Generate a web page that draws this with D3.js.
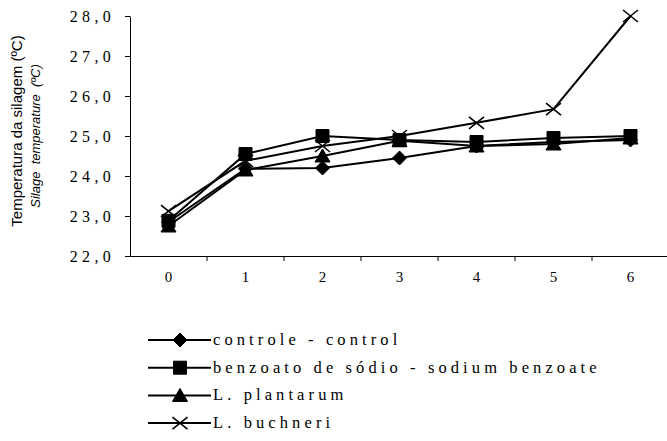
<!DOCTYPE html>
<html lang="en">
<head>
<meta charset="utf-8">
<title>Temperatura da silagem</title>
<script src="https://d3js.org/d3.v7.min.js"></script>
<style>
  body { margin: 0; background: #fff; }
</style>
</head>
<body>
<script>
// dias de exposição ao ar
var days = ["0", "1", "2", "3", "4", "5", "6"];
var controle  = [22.85, 24.18, 24.2, 24.45, 24.75, 24.85, 24.9];
var benzoato  = [22.88, 24.55, 25.0, 24.9, 24.85, 24.95, 25.0];
var plantarum = [22.75, 24.15, 24.5, 24.88, 24.75, 24.8, 24.95];
var buchneri  = [23.12, 24.38, 24.75, 25.0, 25.33, 25.67, 28.0];
var yTicks = [22, 23, 24, 25, 26, 27, 28];

var series = [
  {name: "controle - control", values: controle, symbol: "diamond"},
  {name: "benzoato de sódio - sodium benzoate", values: benzoato, symbol: "square"},
  {name: "L. plantarum", values: plantarum, symbol: "triangle"},
  {name: "L. buchneri", values: buchneri, symbol: "cross"}
];

var width = 667, height = 441;
var serif = "'Liberation Serif', 'Times New Roman', serif";
var sans = "'Liberation Sans', Arial, sans-serif";
var svg = d3.select("body").append("svg")
    .attr("width", width)
    .attr("height", height);

var x = d3.scaleBand().domain(days).range([130, 669]);
var y = d3.scaleLinear().domain([22, 28]).range([256, 16]);

// eixo y
var yAxis = svg.append("g")
    .attr("transform", "translate(130,0)")
    .call(d3.axisLeft(y).tickValues(yTicks).tickSize(5).tickSizeOuter(0)
      .tickFormat(function(d) { return d3.format(".1f")(d).replace(".", ","); }));
yAxis.selectAll("text")
    .attr("x", -15)
    .attr("dy", "0.34em")
    .attr("font-family", serif)
    .style("font-size", "16px")
    .style("letter-spacing", "4.3px");

// eixo x (marcas entre categorias)
var xAxis = svg.append("g")
    .attr("transform", "translate(0,256)")
    .call(d3.axisBottom(x).tickSize(0).tickSizeOuter(0));
xAxis.selectAll("text")
    .attr("y", 26)
    .attr("dy", 0)
    .attr("font-family", serif)
    .style("font-size", "15px");
xAxis.selectAll(".between")
    .data(days.slice(1))
    .enter().append("line")
    .attr("x1", function(d) { return x(d); })
    .attr("x2", function(d) { return x(d); })
    .attr("y1", 0).attr("y2", 5)
    .attr("stroke", "#000");

svg.selectAll(".domain").attr("stroke", "#000");

var line = d3.line()
    .x(function(d, i) { return x(days[i]) + x.bandwidth() / 2; })
    .y(function(d) { return y(d); });

function markerPath(sym) {
  if (sym === "diamond") return "M0,-7L7,0L0,7L-7,0Z";
  if (sym === "square") return "M-6.5,-6.5H6.5V6.5H-6.5Z";
  if (sym === "triangle") return "M0,-7L7.5,6L-7.5,6Z";
  return "M-7.5,-6L7.5,6M-7.5,6L7.5,-6";
}

function drawMarker(g, sym) {
  g.append("path")
    .attr("d", markerPath(sym))
    .attr("fill", sym === "cross" ? "none" : "#000")
    .attr("stroke", "#000")
    .attr("stroke-width", sym === "cross" ? 1.6 : 1);
}

var plot = svg.append("g");
series.forEach(function(s) {
  plot.append("path")
    .datum(s.values)
    .attr("d", line)
    .attr("fill", "none")
    .attr("stroke", "#000")
    .attr("stroke-width", 2);
  s.values.forEach(function(v, i) {
    var g = plot.append("g")
      .attr("transform", "translate(" + (x(days[i]) + x.bandwidth() / 2) + "," + y(v) + ")");
    drawMarker(g, s.symbol);
  });
});

// título do eixo y
svg.append("text")
    .attr("transform", "translate(22,131) rotate(-90)")
    .attr("text-anchor", "middle")
    .attr("font-family", sans)
    .style("font-size", "15px")
    .text("Temperatura da silagem (ºC)");
svg.append("text")
    .attr("transform", "translate(40,136) rotate(-90)")
    .attr("text-anchor", "middle")
    .attr("font-family", sans)
    .style("font-size", "13px")
    .style("font-style", "italic")
    .attr("xml:space", "preserve")
    .text("Silage  temperature  (ºC)");

// legenda
var legend = svg.append("g");
series.forEach(function(s, i) {
  var ly = 340 + i * 27.7;
  legend.append("line")
    .attr("x1", 148).attr("x2", 211)
    .attr("y1", ly).attr("y2", ly)
    .attr("stroke", "#000").attr("stroke-width", 2);
  var g = legend.append("g").attr("transform", "translate(180," + ly + ")");
  drawMarker(g, s.symbol);
  legend.append("text")
    .attr("x", 213).attr("y", ly + 5)
    .attr("font-family", serif)
    .style("font-size", "16.5px")
    .style("letter-spacing", "4.1px")
    .text(s.name);
});
</script>
</body>
</html>
